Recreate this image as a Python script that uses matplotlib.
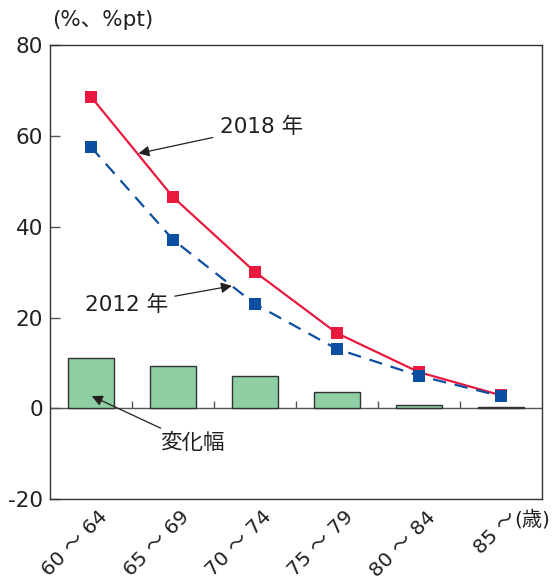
import numpy as np
import matplotlib.pyplot as plt
import matplotlib.transforms as mtrans

plt.rcParams['font.family'] = ['DejaVu Sans', 'Noto Sans CJK JP']
plt.rcParams['axes.unicode_minus'] = False

ages = ['60 ～ 64', '65 ～ 69', '70 ～ 74', '75 ～ 79', '80 ～ 84', '85 ～']
rate2018 = [68.7, 46.6, 30.1, 16.6, 8.0, 2.9]
rate2012 = [57.6, 37.2, 23.0, 13.1, 7.2, 2.7]
change = [11.1, 9.4, 7.1, 3.5, 0.8, 0.2]

red = '#E8193C'
blue = '#0B4EA2'
green = '#8ECFA3'
txt = '#231F20'

x = np.arange(len(ages))

fig = plt.figure(figsize=(5.56, 5.83), dpi=100)
ax = fig.add_axes([0.090, 0.144, 0.884, 0.778])

ax.bar(x, change, width=0.56, color=green, edgecolor='#333333', linewidth=1.0, zorder=2)
ax.axhline(0, color='#555555', linewidth=1.0, zorder=1)
# short separators between age groups, standing on the zero line
ax.vlines(x[:-1] + 0.5, 0, 1.6, color='#555555', linewidth=1.0, zorder=1)

ax.plot(x, rate2018, color=red, linewidth=1.6, marker='s', markersize=8.5,
        markeredgewidth=0, zorder=3)
ax.plot(x, rate2012, color=blue, linewidth=1.6, dashes=(6, 4), marker='s',
        markersize=8.5, markeredgewidth=0, zorder=4)

ax.set_xlim(-0.5, len(ages) - 0.5)
ax.set_ylim(-20, 80)
ax.set_yticks([-20, 0, 20, 40, 60, 80])
ax.tick_params(axis='y', direction='in', length=7, width=1.0, color='#555555',
               labelsize=15.5, labelcolor=txt, pad=5)
ax.set_xticks(x)
ax.set_xticklabels(ages, rotation=45, ha='right', va='top', rotation_mode='anchor',
                   fontsize=14.5, color=txt)
ax.tick_params(axis='x', length=0, pad=6)
shift = mtrans.ScaledTranslation(0.07, 0, fig.dpi_scale_trans)
for lbl in ax.get_xticklabels():
    lbl.set_transform(lbl.get_transform() + shift)
for s in ax.spines.values():
    s.set_color('#333333')
    s.set_linewidth(1.0)

arrow = dict(arrowstyle='-|>', color=txt, linewidth=0.9, mutation_scale=16)
ax.annotate('2018 年', xy=(0.58, 56.2), xytext=(1.57, 62.0), fontsize=15.5, color=txt,
            va='center', ha='left', arrowprops=dict(arrow, shrinkA=3, shrinkB=0))
ax.annotate('2012 年', xy=(1.72, 27.0), xytext=(0.94, 22.8), fontsize=15.5, color=txt,
            va='center', ha='right', arrowprops=dict(arrow, shrinkA=3, shrinkB=0))
ax.annotate('変化幅', xy=(0.01, 2.7), xytext=(0.84, -7.6), fontsize=15.5, color=txt,
            va='center', ha='left', arrowprops=dict(arrow, shrinkA=3, shrinkB=0))

fig.text(0.093, 0.966, '(%、%pt)', fontsize=15.5, color=txt, ha='left', va='center')
fig.text(0.925, 0.108, '(歳)', fontsize=14.5, color=txt, ha='left', va='center')

fig.savefig('out.png', dpi=100)
